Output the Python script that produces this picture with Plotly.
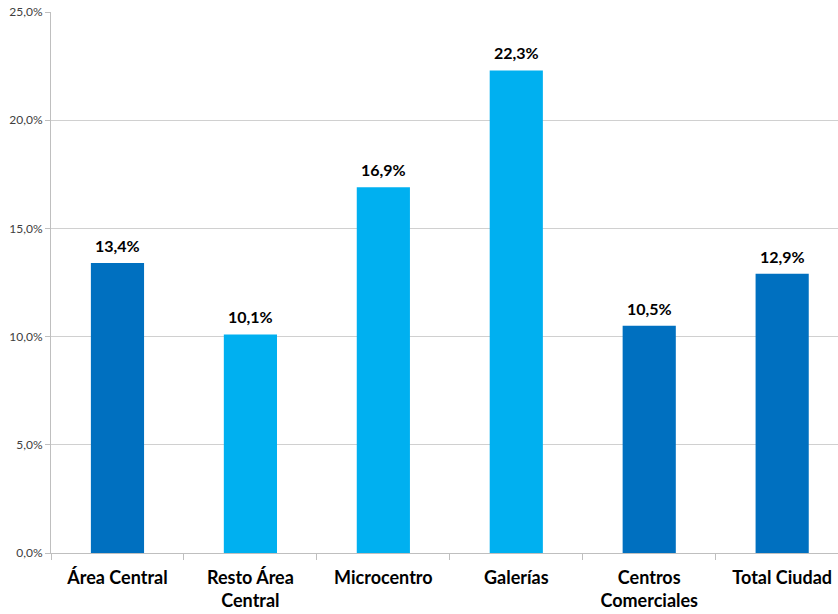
import plotly.graph_objects as go

categories = ["Área Central", "Resto Área<br>Central", "Microcentro", "Galerías", "Centros<br>Comerciales", "Total Ciudad"]
values = [13.4, 10.1, 16.9, 22.3, 10.5, 12.9]
bar_colors = ["#0070C0", "#00B0F0", "#00B0F0", "#00B0F0", "#0070C0", "#0070C0"]
y_ticks = [0, 5, 10, 15, 20, 25]
y_tick_labels = ["0,0%", "5,0%", "10,0%", "15,0%", "20,0%", "25,0%"]

FONT = "Lato, 'Open Sans', sans-serif"

fig = go.Figure()
fig.add_trace(go.Bar(
    x=categories, y=values,
    marker=dict(color=bar_colors, line=dict(width=0)),
    width=0.4,
))

for c, v in zip(categories, values):
    fig.add_annotation(
        x=c, y=v, text=f"<b>{v:.1f}%</b>".replace(".", ","),
        showarrow=False, yanchor="bottom", yshift=6,
        font=dict(family=FONT, size=16, color="#000000"),
    )

fig.update_layout(
    width=838, height=614,
    margin=dict(l=51, r=0, t=12, b=61, autoexpand=False),
    paper_bgcolor="white", plot_bgcolor="white",
    showlegend=False,
    font=dict(family=FONT),
)
fig.update_xaxes(
    type="category",
    range=[-0.5, 5.42],
    showline=True, linecolor="#BFBFBF", linewidth=1,
    ticks="outside", ticklen=6, tickcolor="#BFBFBF", tickson="boundaries",
    tickfont=dict(family=FONT, size=18, color="#000000"),
    tickprefix="<b>", ticksuffix="</b>",
    ticklabelstandoff=8,
    showgrid=False,
)
fig.update_yaxes(
    range=[0, 25],
    tickvals=y_ticks, ticktext=y_tick_labels,
    showline=True, linecolor="#BFBFBF", linewidth=1,
    ticks="outside", ticklen=5, tickcolor="#BFBFBF",
    gridcolor="#D0D0D0", gridwidth=1,
    tickfont=dict(family=FONT, size=12, color="#404040"),
    zeroline=False,
)

fig.write_html("out.html")
